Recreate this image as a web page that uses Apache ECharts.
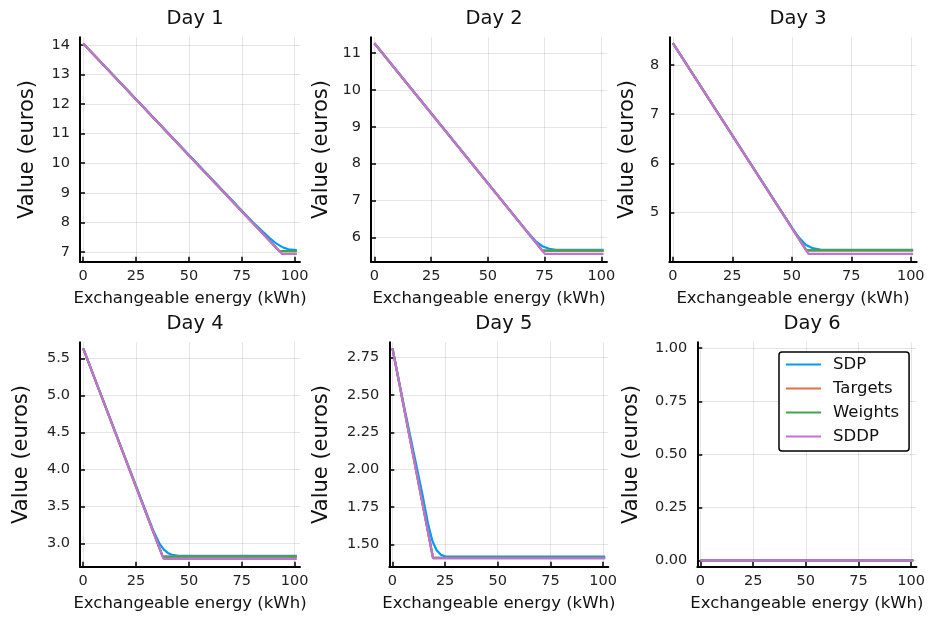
<!DOCTYPE html>
<html><head><meta charset="utf-8">
<script src="https://cdn.jsdelivr.net/npm/echarts@6/dist/echarts.min.js"></script>
<style>html,body{margin:0;padding:0;background:#fff}#c{width:928px;height:618px}</style>
</head><body><div id="c"></div><script>
// ---------------- data ----------------
const dayTitles = ['Day 1', 'Day 2', 'Day 3', 'Day 4', 'Day 5', 'Day 6'];
const seriesNames = ['SDP', 'Targets', 'Weights', 'SDDP'];
const xTickValues = [0, 25, 50, 75, 100];
const yTickValues = [
  [7, 8, 9, 10, 11, 12, 13, 14],
  [6, 7, 8, 9, 10, 11],
  [5, 6, 7, 8],
  [3.0, 3.5, 4.0, 4.5, 5.0, 5.5],
  [1.50, 1.75, 2.00, 2.25, 2.50, 2.75],
  [0.00, 0.25, 0.50, 0.75, 1.00]
];
const yRanges = [
  [6.67, 14.26],
  [5.34, 11.43],
  [4.0, 8.56],
  [2.684, 5.716],
  [1.35, 2.853],
  [-0.03, 1.028]
];
// SDP
const sdpX = [
  [0, 80, 85, 88, 91, 94, 97, 101],
  [0, 68, 71, 74, 77, 80, 83, 101],
  [0, 50, 53, 56, 59, 62, 65, 101],
  [0, 33, 36, 38, 40, 42, 45, 101],
  [0, 5, 10, 14, 17, 19, 21, 23, 25, 101],
  [0, 101]
];
const sdpY = [
  [14.05, 8.02, 7.68, 7.48, 7.30, 7.17, 7.09, 7.06],
  [11.27, 6.11, 5.90, 5.76, 5.69, 5.665, 5.66, 5.66],
  [8.44, 4.70, 4.49, 4.34, 4.27, 4.245, 4.24, 4.24],
  [5.635, 3.18, 3.00, 2.92, 2.87, 2.845, 2.832, 2.83],
  [2.813, 2.46, 2.12, 1.85, 1.63, 1.52, 1.46, 1.43, 1.419, 1.417],
  [0, 0]
];
// Targets
const targetsX = [
  [0, 92.7, 101],
  [0, 74, 101],
  [0, 56.1, 101],
  [0, 37.6, 101],
  [0, 19.25, 101],
  [0, 101]
];
const targetsY = [
  [14.05, 7.03, 7.03],
  [11.27, 5.64, 5.64],
  [8.44, 4.23, 4.23],
  [5.635, 2.82, 2.82],
  [2.813, 1.41, 1.41],
  [0, 0]
];
// Weights
const weightsX = [
  [0, 92.7, 101],
  [0, 74, 101],
  [0, 56.1, 101],
  [0, 37.6, 101],
  [0, 19.25, 101],
  [0, 101]
];
const weightsY = [
  [14.05, 7.03, 7.03],
  [11.27, 5.64, 5.64],
  [8.44, 4.23, 4.23],
  [5.635, 2.82, 2.82],
  [2.813, 1.41, 1.41],
  [0, 0]
];
// SDDP
const sddpX = [
  [0, 94, 101],
  [0, 75.2, 101],
  [0, 57, 101],
  [0, 38, 101],
  [0, 19.3, 101],
  [0, 101]
];
const sddpY = [
  [14.05, 6.93, 6.93],
  [11.27, 5.55, 5.55],
  [8.44, 4.16, 4.16],
  [5.635, 2.79, 2.79],
  [2.813, 1.406, 1.406],
  [0, 0]
];

// ---------------- styles / layout ----------------
const FONT = 'DejaVu Sans';
const colors = ['#009AFA', '#E36F47', '#3EA44E', '#C371D2'];
const grids = [
  {left: 80, top: 37.3, width: 220, height: 224.4},
  {left: 371, top: 37.3, width: 236, height: 224.4},
  {left: 669.3, top: 37.3, width: 247.4, height: 224.4},
  {left: 80, top: 342.3, width: 220, height: 224.4},
  {left: 389.3, top: 342.3, width: 219, height: 224.4},
  {left: 697.3, top: 342.3, width: 219.4, height: 224.4}
];
const yNameGaps = [41.5, 38.5, 31.5, 47.5, 57.5, 55.5];
const yDecimals = [0, 0, 0, 1, 2, 2];

const allX = [sdpX, targetsX, weightsX, sddpX];
const allY = [sdpY, targetsY, weightsY, sddpY];

const option = {
  animation: false,
  backgroundColor: '#fff',
  textStyle: {fontFamily: FONT},
  title: grids.map((g, i) => ({
    text: dayTitles[i],
    left: g.left + g.width / 2,
    top: g.top - 33,
    textAlign: 'center',
    textStyle: {fontFamily: FONT, fontSize: 19.5, fontWeight: 'normal', color: '#111'}
  })),
  grid: grids.map(g => ({left: g.left, top: g.top, width: g.width, height: g.height, containLabel: false})),
  legend: {
    data: seriesNames,
    orient: 'vertical',
    left: 779,
    top: 352,
    padding: [4, 10, 6, 7],
    itemGap: 7,
    itemWidth: 35,
    itemHeight: 2,
    icon: 'rect',
    backgroundColor: '#fff',
    borderColor: '#000',
    borderWidth: 1.5,
    borderRadius: 3,
    textStyle: {fontFamily: FONT, fontSize: 16.5, lineHeight: 17, color: '#111', padding: [0, 0, 0, 7]}
  },
  xAxis: grids.map((g, i) => ({
    type: 'value',
    gridIndex: i,
    min: -1.5,
    max: 102.5,
    name: 'Exchangeable energy (kWh)',
    nameLocation: 'middle',
    nameGap: 28.5,
    nameTextStyle: {fontFamily: FONT, fontSize: 16.5, color: '#111'},
    axisLine: {show: true, onZero: false, lineStyle: {color: '#000', width: 2}},
    axisTick: {show: true, inside: true, length: 5, customValues: xTickValues, lineStyle: {color: '#000', width: 1.5}},
    axisLabel: {show: true, customValues: xTickValues, margin: 7, fontFamily: FONT, fontSize: 14.5, color: '#222'},
    splitLine: {show: true, lineStyle: {color: 'rgba(0,0,0,0.1)', width: 1}}
  })),
  yAxis: grids.map((g, i) => ({
    type: 'value',
    gridIndex: i,
    min: yRanges[i][0],
    max: yRanges[i][1],
    name: 'Value (euros)',
    nameLocation: 'middle',
    nameRotate: 90,
    nameGap: yNameGaps[i],
    nameTextStyle: {fontFamily: FONT, fontSize: 21, color: '#111'},
    axisLine: {show: true, onZero: false, lineStyle: {color: '#000', width: 2}},
    axisTick: {show: true, inside: true, length: 5, customValues: yTickValues[i], lineStyle: {color: '#000', width: 1.5}},
    axisLabel: {show: true, customValues: yTickValues[i], margin: 10, fontFamily: FONT, fontSize: 14.5, color: '#222',
      formatter: v => Number(v).toFixed(yDecimals[i])},
    splitLine: {show: true, lineStyle: {color: 'rgba(0,0,0,0.1)', width: 1}}
  })),
  series: []
};

for (let d = 0; d < 6; d++) {
  for (let s = 0; s < 4; s++) {
    const xs = allX[s][d], ys = allY[s][d];
    option.series.push({
      type: 'line',
      name: seriesNames[s],
      xAxisIndex: d,
      yAxisIndex: d,
      data: xs.map((x, k) => [x, ys[k]]),
      smooth: false,
      showSymbol: false,
      symbol: 'none',
      color: colors[s],
      lineStyle: {color: colors[s], width: 2.2},
      emphasis: {disabled: true},
      z: 2 + s
    });
  }
}

const chart = echarts.init(document.getElementById('c'), null, {renderer: 'canvas'});
chart.setOption(option);
</script></body></html>
